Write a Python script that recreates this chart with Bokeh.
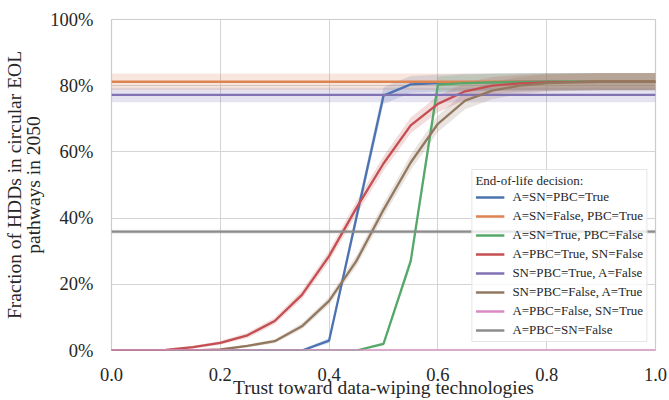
from bokeh.plotting import figure
from bokeh.models import Range1d, FixedTicker, PrintfTickFormatter
from bokeh.embed import file_html
from bokeh.resources import INLINE

# ---------------- data ----------------
trust = [0.0, 0.05, 0.1, 0.15, 0.2, 0.25, 0.3, 0.35, 0.4, 0.45, 0.5,
         0.55, 0.6, 0.65, 0.7, 0.75, 0.8, 0.85, 0.9, 0.95, 1.0]

labels = ["A=SN=PBC=True", "A=SN=False, PBC=True", "A=SN=True, PBC=False",
          "A=PBC=True, SN=False", "SN=PBC=True, A=False", "SN=PBC=False, A=True",
          "A=PBC=False, SN=True", "A=PBC=SN=False"]

colors = ["#4C72B0", "#DD8452", "#55A868", "#C44E52",
          "#8172B3", "#937860", "#DA8BC3", "#8C8C8C"]

# fraction (%) of HDDs in circular EOL pathways in 2050
a_sn_pbc_true = [0, 0, 0, 0, 0, 0, 0, 0, 3.0, 40.0, 77.0,
                 80.4, 80.8, 81.0, 81.1, 81.2, 81.2, 81.2, 81.2, 81.2, 81.2]
a_sn_false_pbc_true = [81.2] * 21
a_sn_true_pbc_false = [0, 0, 0, 0, 0, 0, 0, 0, 0, 0, 2.0,
                       27.0, 80.3, 80.8, 81.0, 81.1, 81.2, 81.2, 81.2, 81.2, 81.2]
a_pbc_true_sn_false = [0, 0, 0.2, 1.0, 2.3, 4.6, 8.9, 16.8, 28.5, 43.0, 56.5,
                       68.0, 74.5, 78.3, 80.0, 80.7, 81.0, 81.1, 81.2, 81.2, 81.2]
sn_pbc_true_a_false = [77.2] * 21
sn_pbc_false_a_true = [0, 0, 0, 0, 0.3, 1.4, 2.8, 7.3, 15.0, 27.0, 42.5,
                       56.8, 68.5, 75.5, 78.5, 80.0, 80.8, 81.1, 81.2, 81.2, 81.2]
a_pbc_false_sn_true = [0] * 21
a_pbc_sn_false = [35.9] * 21

# confidence band lower / upper offsets (%)
hw_a_sn_pbc_true = [0, 0, 0, 0, 0, 0, 0, 0.3, 0.8, 2.0, 2.5,
                    2.5, 2.6, 2.6, 2.6, 2.6, 2.6, 2.6, 2.6, 2.6, 2.6]
hw_a_sn_false_pbc_true = [2.5] * 21
hw_a_sn_true_pbc_false = [0, 0, 0, 0, 0, 0, 0, 0, 0, 0.2, 0.6,
                          1.5, 2.5, 2.6, 2.6, 2.6, 2.6, 2.6, 2.6, 2.6, 2.6]
hw_a_pbc_true_sn_false = [0, 0, 0.2, 0.4, 0.6, 0.8, 1.0, 1.3, 1.6, 2.0, 2.2,
                          2.4, 2.5, 2.6, 2.6, 2.6, 2.6, 2.6, 2.6, 2.6, 2.6]
hw_sn_pbc_true_a_false = [2.2] * 21
hw_sn_pbc_false_a_true = [0, 0, 0, 0, 0.2, 0.4, 0.6, 0.9, 1.2, 1.6, 2.0,
                          2.3, 2.5, 2.6, 2.6, 2.6, 2.6, 2.6, 2.6, 2.6, 2.6]
hw_a_pbc_false_sn_true = [0] * 21
hw_a_pbc_sn_false = [0.6] * 21

series = [a_sn_pbc_true, a_sn_false_pbc_true, a_sn_true_pbc_false, a_pbc_true_sn_false,
          sn_pbc_true_a_false, sn_pbc_false_a_true, a_pbc_false_sn_true, a_pbc_sn_false]
bands = [hw_a_sn_pbc_true, hw_a_sn_false_pbc_true, hw_a_sn_true_pbc_false, hw_a_pbc_true_sn_false,
         hw_sn_pbc_true_a_false, hw_sn_pbc_false_a_true, hw_a_pbc_false_sn_true, hw_a_pbc_sn_false]

x_ticks = [0.0, 0.2, 0.4, 0.6, 0.8, 1.0]
y_ticks = [0, 20, 40, 60, 80, 100]

FONT = "Liberation Serif, Times New Roman, DejaVu Serif, serif"
TXT = "#262626"

# ---------------- figure ----------------
p = figure(width=669, height=400, output_backend="svg", toolbar_location=None,
           x_range=Range1d(0, 1), y_range=Range1d(0, 100),
           min_border_left=111, min_border_right=14, min_border_top=19,
           min_border_bottom=48)

p.background_fill_color = "white"
p.border_fill_color = "white"
p.outline_line_color = "#cccccc"
p.outline_line_width = 1.2

for ax in (p.xaxis[0], p.yaxis[0]):
    ax.axis_line_color = None
    ax.major_tick_line_color = None
    ax.minor_tick_line_color = None
    ax.major_label_text_font = FONT
    ax.major_label_text_font_size = "18.5px"
    ax.major_label_text_color = TXT
    ax.axis_label_text_font = FONT
    ax.axis_label_text_font_size = "19.5px"
    ax.axis_label_text_font_style = "normal"
    ax.axis_label_text_color = TXT

p.xaxis[0].ticker = FixedTicker(ticks=x_ticks)
p.xaxis[0].formatter = PrintfTickFormatter(format="%.1f")
p.xaxis[0].major_label_standoff = 11
p.xaxis[0].axis_label = "Trust toward data-wiping technologies"
p.xaxis[0].axis_label_standoff = -7

p.yaxis[0].ticker = FixedTicker(ticks=y_ticks)
p.yaxis[0].formatter = PrintfTickFormatter(format="%d%%")
p.yaxis[0].major_label_standoff = 12
p.yaxis[0].axis_label = "Fraction of HDDs in circular EOL\npathways in 2050"
p.yaxis[0].axis_label_text_line_height = 0.9
p.yaxis[0].axis_label_standoff = 3

p.xgrid.grid_line_color = "#d4d4d4"
p.ygrid.grid_line_color = "#d4d4d4"
p.xgrid.grid_line_width = 1
p.ygrid.grid_line_width = 1

for vals, hw, col in zip(series, bands, colors):
    lo = [v - h for v, h in zip(vals, hw)]
    hi = [v + h for v, h in zip(vals, hw)]
    p.varea(x=trust, y1=lo, y2=hi, fill_color=col, fill_alpha=0.2)

for vals, col, lab in zip(series, colors, labels):
    p.line(trust, vals, line_color=col, line_width=2.3, legend_label=lab)

lg = p.legend[0]
lg.location = "bottom_right"
lg.margin = 8
lg.padding = 3
lg.spacing = 3
lg.title = "End-of-life decision:"
lg.title_text_font = FONT
lg.title_text_font_size = "13px"
lg.title_text_font_style = "normal"
lg.title_text_color = TXT
lg.title_standoff = 0
lg.label_text_font = FONT
lg.label_text_font_size = "13px"
lg.label_text_color = TXT
lg.label_height = 16
lg.glyph_height = 16
lg.glyph_width = 29
lg.label_standoff = 8
lg.background_fill_color = "white"
lg.background_fill_alpha = 0.8
lg.border_line_color = "#cccccc"
lg.border_line_width = 1

open("out.html", "w").write(file_html(p, INLINE))
